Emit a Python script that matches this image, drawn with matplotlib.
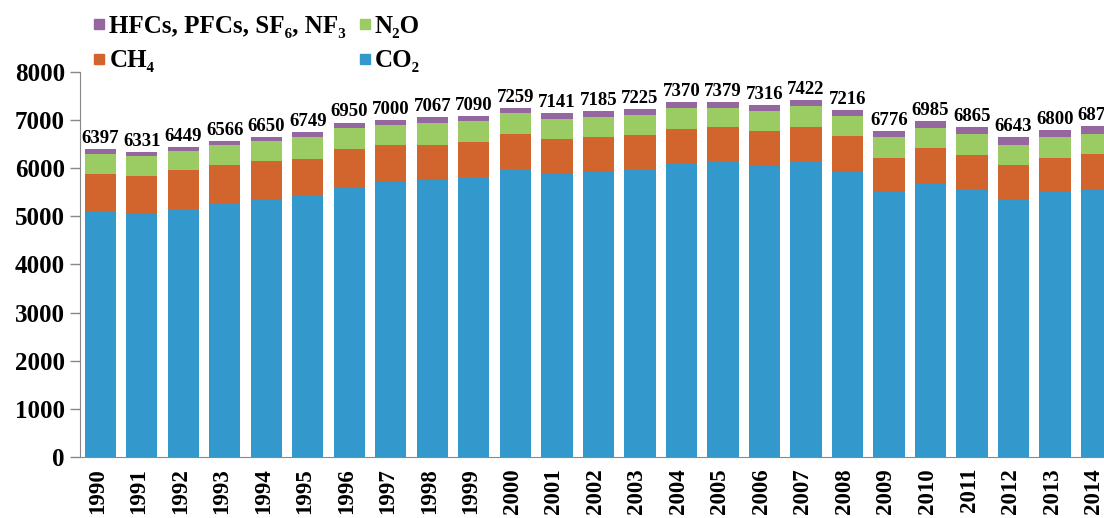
import matplotlib
matplotlib.use("Agg")
import matplotlib.pyplot as plt
import matplotlib.transforms as mtrans
from matplotlib.lines import Line2D
import numpy as np

plt.rcParams['font.family'] = ['Liberation Serif', 'DejaVu Serif']
plt.rcParams['font.weight'] = 'bold'

years = [str(y) for y in range(1990, 2015)]
co2 = [5101, 5045, 5149, 5274, 5364, 5440, 5620, 5717, 5745, 5807, 5981, 5884, 5925,
       5981, 6105, 6126, 6043, 6133, 5925, 5496, 5690, 5565, 5357, 5496, 5537]
ch4 = [783, 783, 811, 783, 790, 762, 776, 756, 748, 742, 734, 727, 714,
       706, 707, 735, 721, 728, 735, 720, 727, 714, 700, 720, 762]
n2o = [415, 416, 388, 416, 409, 444, 437, 415, 444, 423, 423, 402, 423,
       423, 437, 395, 415, 423, 430, 430, 416, 436, 423, 430, 409]
fgas = [98, 87, 101, 93, 87, 103, 117, 112, 130, 118, 121, 128, 123,
        115, 121, 123, 137, 138, 126, 130, 152, 150, 163, 154, 162]
totals = [6397, 6331, 6449, 6566, 6650, 6749, 6950, 7000, 7067, 7090, 7259, 7141, 7185,
          7225, 7370, 7379, 7316, 7422, 7216, 6776, 6985, 6865, 6643, 6800, 6870]

c_co2 = '#3399cc'
c_ch4 = '#d2652d'
c_n2o = '#9bcb63'
c_fgas = '#9467a0'

x = np.arange(len(years))
w = 0.75

fig = plt.figure(figsize=(11.04, 5.18), dpi=100)
ax = fig.add_axes([0.0725, 0.118, 0.9275, 0.743])

b1 = np.array(co2)
b2 = b1 + np.array(ch4)
b3 = b2 + np.array(n2o)
ax.bar(x, co2, w, color=c_co2)
ax.bar(x, ch4, w, bottom=b1, color=c_ch4)
ax.bar(x, n2o, w, bottom=b2, color=c_n2o)
ax.bar(x, fgas, w, bottom=b3, color=c_fgas)

for xi, top, t in zip(x, b3 + np.array(fgas), totals):
    ax.annotate(str(t), (xi, top), xytext=(0, 1.5), textcoords='offset points',
                ha='center', va='bottom', fontsize=13.5, fontweight='bold')

ax.set_xlim(-0.49, 24.18)
ax.set_ylim(0, 8000)
ax.set_yticks(range(0, 8001, 1000))
ax.set_xticks(x)
ax.set_xticklabels(years, rotation=90)
ax.tick_params(axis='x', length=0, pad=8, labelsize=16.5)
ax.tick_params(axis='y', length=7, width=1, color='#888888', labelsize=18, pad=4)
# year labels sit a little left of the bar centres
shift = mtrans.ScaledTranslation(-3 / 100, 0, fig.dpi_scale_trans)
for lab in ax.get_xticklabels():
    lab.set_transform(lab.get_transform() + shift)
for s in ['top', 'right']:
    ax.spines[s].set_visible(False)
for s in ['left', 'bottom']:
    ax.spines[s].set_color('#888888')

handles = [
    Line2D([], [], marker='s', ls='', color=c_fgas, markersize=7),
    Line2D([], [], marker='s', ls='', color=c_ch4, markersize=7),
    Line2D([], [], marker='s', ls='', color=c_n2o, markersize=7),
    Line2D([], [], marker='s', ls='', color=c_co2, markersize=7),
]
labels = ['HFCs, PFCs, SF₆, NF₃', 'CH₄', 'N₂O', 'CO₂']
fig.legend(handles, labels, ncol=2, loc='upper left', bbox_to_anchor=(0.0765, 0.99),
           frameon=False, fontsize=18, handlelength=0.4, handletextpad=0.2,
           columnspacing=0.55, labelspacing=0.45, borderaxespad=0)

fig.savefig('out.png', dpi=100)
